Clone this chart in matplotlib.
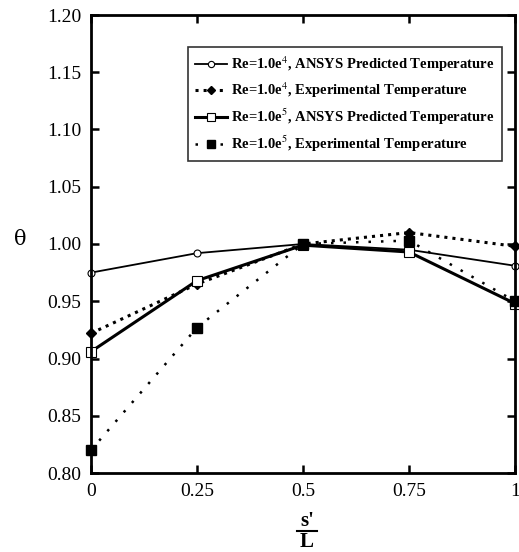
import matplotlib
matplotlib.use("Agg")
import matplotlib.pyplot as plt
from matplotlib.lines import Line2D

x = [0, 0.25, 0.5, 0.75, 1.0]
re4_ansys = [0.975, 0.992, 1.000, 0.995, 0.981]
re4_exp = [0.922, 0.965, 1.000, 1.010, 0.998]
re5_ansys = [0.906, 0.968, 0.999, 0.993, 0.948]
re5_exp = [0.820, 0.927, 1.000, 1.003, 0.950]
labels = [r"Re=1.0e$^{4}$, ANSYS Predicted Temperature",
          r"Re=1.0e$^{4}$, Experimental Temperature",
          r"Re=1.0e$^{5}$, ANSYS Predicted Temperature",
          r"Re=1.0e$^{5}$, Experimental Temperature"]
xticks = [0, 0.25, 0.5, 0.75, 1.0]
xticklabels = ["0", "0.25", "0.5", "0.75", "1"]
yticks = [0.80, 0.85, 0.90, 0.95, 1.00, 1.05, 1.10, 1.15, 1.20]

plt.rcParams['font.family'] = ['Liberation Serif', 'DejaVu Serif']
plt.rcParams['mathtext.fontset'] = 'stix'

fig = plt.figure(figsize=(5.19, 5.52), dpi=100)
ax = fig.add_axes([91/519, 1-473/552, (515-91)/519, (473-15)/552])

ax.plot(x, re4_ansys, '-', color='black', lw=1.3, marker='o', ms=5,
        mfc='white', mec='black', mew=0.8, label=labels[0], clip_on=False)
ax.plot(x, re4_exp, ':', color='black', lw=2.2, marker='D', ms=5,
        mfc='black', mec='black', label=labels[1], clip_on=False)
ax.plot(x, re5_ansys, '-', color='black', lw=2.2, marker='s', ms=7,
        mfc='white', mec='black', mew=0.8, label=labels[2], clip_on=False)
ax.plot(x, re5_exp, color='black', lw=1.8, linestyle=(0, (1, 4)), marker='s', ms=7,
        mfc='black', mec='black', label=labels[3], clip_on=False)

ax.set_xlim(0, 1)
ax.set_ylim(0.80, 1.20)
ax.set_xticks(xticks)
ax.set_xticklabels(xticklabels)
ax.set_yticks(yticks)
ax.set_yticklabels([f"{v:.2f}" for v in yticks])
ax.tick_params(direction='in', length=6, width=1.8, top=True, right=True,
               labelsize=14, pad=7)
for s in ax.spines.values():
    s.set_linewidth(2)

fig.text(20/519, 1-240/552, "θ", fontsize=15, ha='center', va='center',
         family=['DejaVu Serif'])
fig.text(307/519, 1-521/552, "s'", fontsize=15, fontweight='bold',
         ha='center', va='center')
fig.text(307/519, 1-542/552, "L", fontsize=15, fontweight='bold',
         ha='center', va='center')
fig.add_artist(Line2D([297/519, 317/519], [1-531/552, 1-531/552],
                      color='black', lw=1.5, transform=fig.transFigure))

leg = ax.legend(loc='upper right', frameon=True, fancybox=False,
                edgecolor='black', prop={'weight': 'bold', 'size': 10.5},
                handlelength=2.2, borderpad=0.5, labelspacing=0.45,
                handletextpad=0.3, markerscale=0.9, borderaxespad=0)
leg.set_bbox_to_anchor((502/519, 1-47/552), transform=fig.transFigure)
leg.get_frame().set_linewidth(1.2)

fig.savefig("out.png", dpi=100)
